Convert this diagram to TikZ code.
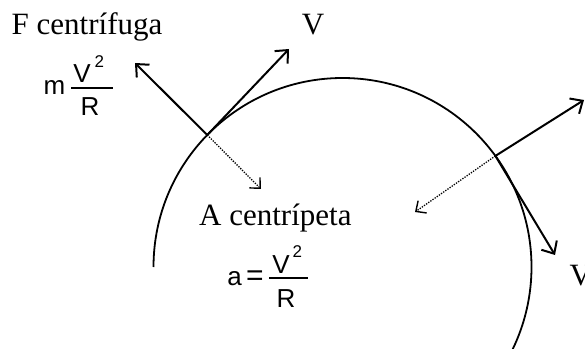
\documentclass[tikz,border=0pt]{standalone}
\usepackage{fontspec}
\setmainfont{Liberation Serif}
\newfontfamily\arialf{Liberation Sans}
\usetikzlibrary{arrows.meta}
\begin{document}
\begin{tikzpicture}[x=1pt,y=1pt,
  vec/.style={line width=2pt, -{Straight Barb[length=10pt,width=18pt,line width=2pt]}},
  dvec/.style={line width=1.3pt, dash pattern=on 1.3pt off 1.3pt, -{Straight Barb[length=8pt,width=15pt,line width=1.4pt]}},
  lbl/.style={inner sep=0pt, font=\fontsize{31}{36}\selectfont},
  eqt/.style={inner sep=0pt, font=\arialf\fontsize{26}{30}\selectfont},
  supt/.style={inner sep=0pt, font=\arialf\fontsize{17}{20}\selectfont},
  fracbar/.style={line width=1.3pt}]
\useasboundingbox (0,0) rectangle (585,348);
% circle path
\coordinate (O) at (342.5,81);
\draw[line width=1.8pt] (O) ++(180:189) arc[start angle=180,end angle=-26,radius=189];
\path (O) ++(135.7:189) coordinate (J1);
\path (O) ++(36:189) coordinate (J2);
% arrow ends
\coordinate (F1) at (135,285);
\coordinate (V1) at (289,299);
\coordinate (D1) at (261,159);
\coordinate (F2) at (584,248);
\coordinate (V2) at (555,93);
\coordinate (D2) at (415,136);
\draw[vec] (J1) -- (F1);
\draw[vec] (J1) -- (V1);
\draw[dvec] (J1) -- (D1);
\draw[vec] (J2) -- (F2);
\draw[vec] (J2) -- (V2);
\draw[dvec] (J2) -- (D2);
% labels
\node[lbl, anchor=base west] (ftxt) at (11.5,313) {F centrífuga};
\node[lbl, anchor=base west] (atxt) at (199,123) {A centrípeta};
\node[lbl, anchor=base] (vtop) at (313,313) {V};
\node[lbl, anchor=base west] (vright) at (569.5,63) {V};
% m V^2/R
\node[eqt, anchor=base west] (m1) at (43.4,253) {m};
\node[eqt, anchor=base] (v1) at (82,265) {V};
\node[supt, anchor=base west] (two1) at (94.3,280) {2};
\coordinate (b1l) at (71,260);
\coordinate (b1r) at (113,260);
\draw[fracbar] (b1l) -- (b1r);
\node[eqt, anchor=base] (r1) at (90,232) {R};
% a = V^2/R
\node[eqt, anchor=base] (a2) at (234.5,63) {a};
\node[eqt, font=\arialf\fontsize{30}{34}\selectfont] (eqs) at (255,70) {=};
\node[eqt, anchor=base] (v2) at (281,75) {V};
\node[supt, anchor=base west] (two2) at (292.5,91) {2};
\coordinate (b2l) at (269,70);
\coordinate (b2r) at (308,70);
\draw[fracbar] (b2l) -- (b2r);
\node[eqt, anchor=base] (r2) at (286,41) {R};
\end{tikzpicture}
\end{document}
